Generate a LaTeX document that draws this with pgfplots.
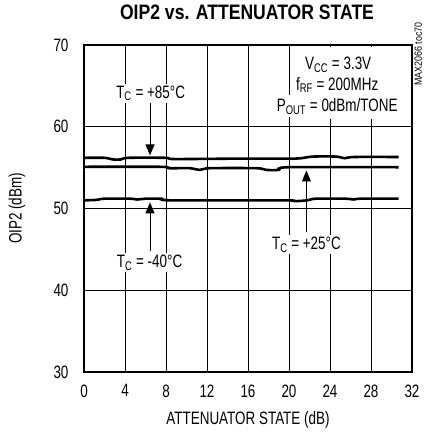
\documentclass[border=0pt]{standalone}
\usepackage{fontspec}
\setmainfont{Liberation Sans}[FakeStretch=0.75]
\newfontfamily\titlefont{Liberation Sans}[FakeStretch=0.84]
\newfontfamily\smallfont{Liberation Sans}[FakeStretch=0.85]
\usepackage{pgfplots}
\pgfplotsset{compat=1.18}
\usetikzlibrary{arrows.meta}
\begin{document}
\begin{tikzpicture}
\useasboundingbox (-84bp,-63bp) rectangle (340bp,372bp);
\begin{axis}[
  scale only axis, width=328bp, height=327bp,
  xmin=0, xmax=32, ymin=30, ymax=70,
  xtick={0,4,...,32}, ytick={30,40,...,70},
  grid=major, major grid style={black, line width=0.6pt},
  axis line style={line width=2.8pt},
  major tick length=0pt,
  tick label style={font=\fontsize{18}{20}\selectfont},
  /pgf/number format/assume math mode=true,
  xticklabel style={yshift=-9bp},
  yticklabel style={xshift=-12bp},
  xlabel={ATTENUATOR STATE (dB)},
  ylabel={OIP2 (dBm)},
  label style={font=\fontsize{18}{20}\selectfont},
  xlabel style={at={(axis description cs:0.5,-0.147)}, anchor=center},
  ylabel style={at={(axis description cs:-0.204,0.5)}, anchor=center},
  title={\titlefont\bfseries OIP2 vs. ATTENUATOR STATE},
  title style={at={(axis description cs:0.497,1.083)}, anchor=center, font=\fontsize{21}{23}\selectfont},
  clip=false,
]
% annotations (white boxes over the grid)
\fill[white] (axis cs:22.7,60.9) rectangle (axis cs:31.5,69.75);
\node[fill=white, inner sep=2pt, font=\fontsize{18}{20}\selectfont] at (axis cs:6.5,64.1) {T\textsubscript{C} = +85°C};
\node[fill=white, inner sep=2pt, font=\fontsize{18}{20}\selectfont] at (axis cs:6.4,43.4) {T\textsubscript{C} = -40°C};
\node[fill=white, inner sep=2pt, font=\fontsize{18}{20}\selectfont] at (axis cs:21.7,45.6) {T\textsubscript{C} = +25°C};
\node[fill=white, inner sep=3pt, font=\fontsize{18}{20}\selectfont] at (axis cs:24.8,67.6) {V\textsubscript{CC} = 3.3V};
\node[fill=white, inner sep=3pt, font=\fontsize{18}{20}\selectfont] at (axis cs:24.7,65.1) {f\textsubscript{RF} = 200MHz};
\node[fill=white, inner sep=3pt, font=\fontsize{18}{20}\selectfont] at (axis cs:24.7,62.5) {P\textsubscript{OUT} = 0dBm/TONE};
\node[rotate=90, font=\smallfont\fontsize{10.5}{11}\selectfont] at (axis cs:32.6,68.9) {MAX2066 toc70};
\draw[-{Triangle[length=11bp,width=9bp]}, line width=0.9pt] (axis cs:6.44,62.9) -- (axis cs:6.44,56.5);
\draw[-{Triangle[length=11bp,width=9bp]}, line width=0.9pt] (axis cs:6.44,44.8) -- (axis cs:6.44,50.75);
\draw[-{Triangle[length=11bp,width=9bp]}, line width=0.9pt] (axis cs:21.7,47.1) -- (axis cs:21.7,54.65);
% data
\addplot[black, line width=2.6pt, smooth] coordinates {
 (0,56.2) (2,56.2) (2.8,56.0) (3.6,56.0) (4.3,56.2) (8,56.2) (8.8,56.05) (15,56.1) (20,56.1) (21.2,56.15) (22.3,56.35) (24.6,56.35) (25.4,56.15) (26.4,56.3) (30.7,56.3)};
\addplot[black, line width=2.6pt, smooth] coordinates {
 (0,55.1) (7.5,55.1) (8.3,54.93) (10.3,54.93) (11.3,54.72) (12.3,54.93) (16.8,54.93) (17.8,54.72) (19,54.72) (20,55.05) (30.7,55.05)};
\addplot[black, line width=2.6pt, smooth] coordinates {
 (0,51.0) (1.2,51.05) (2,51.2) (4.5,51.2) (5.2,51.1) (6,51.2) (7.6,51.2) (8.5,51.0) (19.5,51.0) (20.6,50.9) (21.8,51.0) (22.6,51.2) (25.5,51.2) (26.3,51.1) (27,51.2) (30.7,51.2)};
\end{axis}
\end{tikzpicture}
\end{document}
